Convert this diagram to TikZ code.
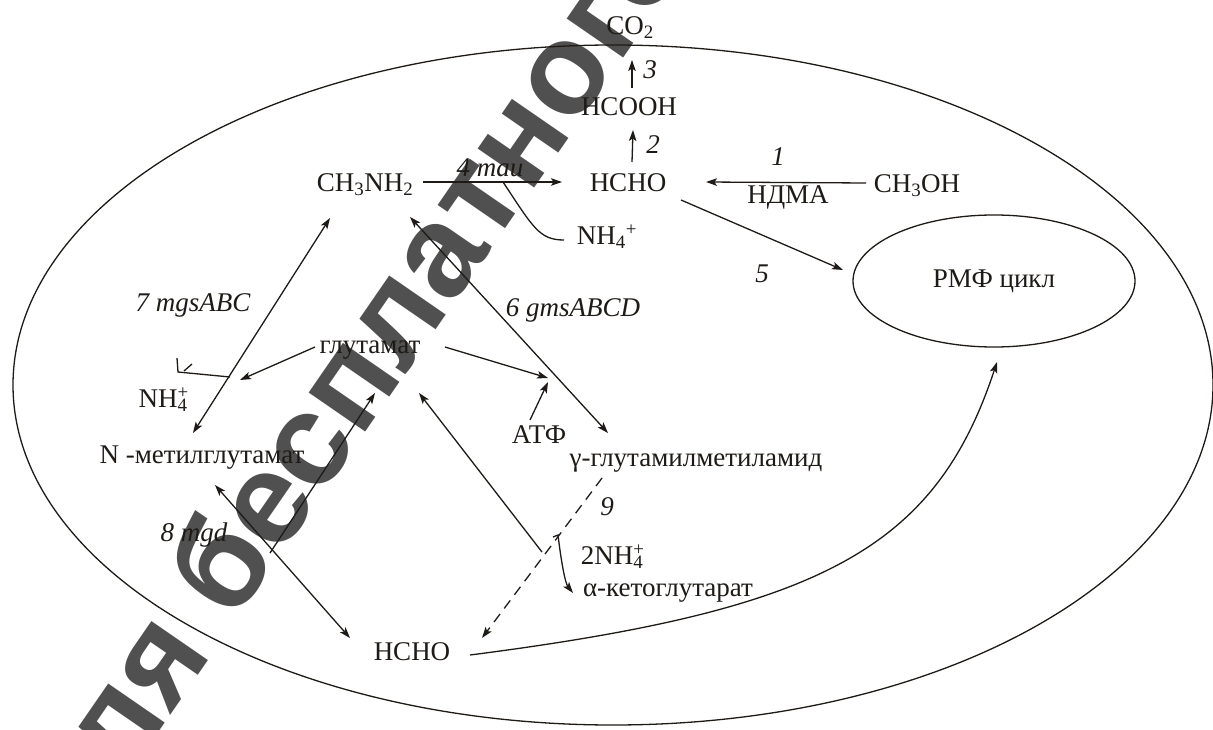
\documentclass[tikz,border=0pt]{standalone}
\usepackage{fontspec}
\setmainfont{Liberation Serif}
\newfontfamily\wmfont{Liberation Sans}
\usetikzlibrary{arrows.meta,shapes.geometric,calc}
\definecolor{wm}{RGB}{80,80,80}
\definecolor{ink}{RGB}{30,26,22}
\begin{document}
\begin{tikzpicture}[x=1pt,y=-1pt,
  lbl/.style={font=\fontsize{27}{30}\selectfont, inner sep=0pt, text=ink},
  ilbl/.style={font=\fontsize{27}{30}\selectfont\itshape, inner sep=0pt, text=ink},
  conn/.style={draw=ink, line width=1.3pt},
  arr/.style={conn, -{Stealth[length=11pt,width=7.5pt,inset=2.5pt]}},
  darr/.style={conn, {Stealth[length=11pt,width=7.5pt,inset=2.5pt]}-{Stealth[length=11pt,width=7.5pt,inset=2.5pt]}},
  wmtext/.style={font=\wmfont\bfseries\fontsize{130}{130}\selectfont, text=wm, anchor=base, rotate=55.4, inner sep=0pt},
  cell/.style={ellipse, draw=ink, line width=1.3pt, minimum width=282, minimum height=132, inner sep=0pt, font=\fontsize{27}{30}\selectfont, text=ink}
]
\useasboundingbox (0,0) rectangle (1213,730);
\fill[white] (0,0) rectangle (1213,730);

% watermark
\node[wmtext] (wm) at (385,404) {для бесплатного};

% outer cell
\draw[conn] (613,385) ellipse [x radius=600, y radius=340];

% compounds
\node[lbl] (co2) at (630,28) {CO\textsubscript{2}};
\node[lbl] (hcooh) at (629,107) {HCOOH};
\node[lbl] (hchoT) at (628,183) {HCHO};
\node[lbl] (ch3nh2) at (365,185) {CH\textsubscript{3}NH\textsubscript{2}};
\node[lbl] (ch3oh) at (917,186) {CH\textsubscript{3}OH};
\node[lbl] (nh4t) at (607,237) {NH\textsubscript{4}\textsuperscript{+}};
\node[cell] (rmf) at (994,281) {РМФ цикл};
\node[lbl] (glut) at (370,350) {глутамат};
\node[lbl] (nh4l) at (163,400) {NH\rlap{\textsuperscript{+}}\textsubscript{4}};
\node[lbl] (nmg) at (202,458) {N -метилглутамат};
\node[lbl] (atf) at (539,435) {АТФ};
\node[lbl] (ggma) at (696,463) {γ-глутамилметиламид};
\node[lbl] (nh4b) at (612,557) {2NH\rlap{\textsuperscript{+}}\textsubscript{4}};
\node[lbl] (akg) at (668,593) {α-кетоглутарат};
\node[lbl] (hchoB) at (412,652) {HCHO};

% labels
\node[ilbl] (l3) at (650,70) {3};
\node[ilbl] (l2) at (653,145) {2};
\node[ilbl] (l4) at (490,168) {4 mau};
\node[ilbl] (l1) at (778,157) {1};
\node[lbl] (ndma) at (788,197) {НДМА};
\node[ilbl] (l5) at (762,274) {5};
\node[ilbl] (l7) at (193,305) {7 mgsABC};
\node[ilbl] (l6) at (573,310) {6 gmsABCD};
\node[ilbl] (l8) at (194,535) {8 mgd};
\node[ilbl] (l9) at (607,507) {9};

% connectors
\draw[arr] ([shift={(3,-19)}]hcooh.center) -- ([shift={(2,32)}]co2.center);
\draw[arr] ([shift={(4,-21)}]hchoT.center) -- ([shift={(4,23)}]hcooh.center);
\draw[arr] ([shift={(58,-3)}]ch3nh2.center) -- ([shift={(-66,-1)}]hchoT.center);
\draw[conn] ([shift={(138,-3)}]ch3nh2.center) .. controls +(30,45) and +(-25,0) .. ([shift={(-43,3)}]nh4t.center);
\draw[arr] ([shift={(-51,-3)}]ch3oh.center) -- ([shift={(78,-1)}]hchoT.center);
\draw[arr] ([shift={(53,17)}]hchoT.center) -- ([shift={(-151,-11)}]rmf.center);
\draw[darr] ([shift={(-9,-25)}]nmg.center) -- ([shift={(-35,33)}]ch3nh2.center);
\draw[darr] ([shift={(-88,-30)}]ggma.center) -- ([shift={(45,32)}]ch3nh2.center);
\draw[arr] ([shift={(-55,-3)}]glut.center) -- ([shift={(77,-20)}]nh4l.center);
\draw[conn] ([shift={(67,-23)}]nh4l.center) -- ([shift={(15,-28)}]nh4l.center) -- ([shift={(14,-42)}]nh4l.center);
\draw[conn] ([shift={(21,-29)}]nh4l.center) -- ([shift={(29,-36)}]nh4l.center);
\draw[arr] ([shift={(75,-3)}]glut.center) -- ([shift={(9,-57)}]atf.center);
\draw[arr] ([shift={(-9,-15)}]atf.center) -- ([shift={(9,-53)}]atf.center);
\draw[darr] ([shift={(13,27)}]nmg.center) -- ([shift={(-62,-14)}]hchoB.center);
\draw[arr] ([shift={(-142,-99)}]hchoB.center) -- ([shift={(5,43)}]glut.center);
\draw[arr] ([shift={(130,-100)}]hchoB.center) -- ([shift={(49,43)}]glut.center);
\draw[arr, dash pattern=on 10pt off 7pt] ([shift={(-94,15)}]ggma.center) -- ([shift={(70,-14)}]hchoB.center);
\draw[arr] ([shift={(-143,74)}]ggma.center) -- ([shift={(-138,72)}]ggma.center) .. controls +(3,25) and +(-8,-10) .. ([shift={(-95,0)}]akg.center);
\draw[arr] ([shift={(58,3)}]hchoB.center) .. controls (820,610) and (935,550) .. ([shift={(3,81)}]rmf.center);
\end{tikzpicture}
\end{document}
